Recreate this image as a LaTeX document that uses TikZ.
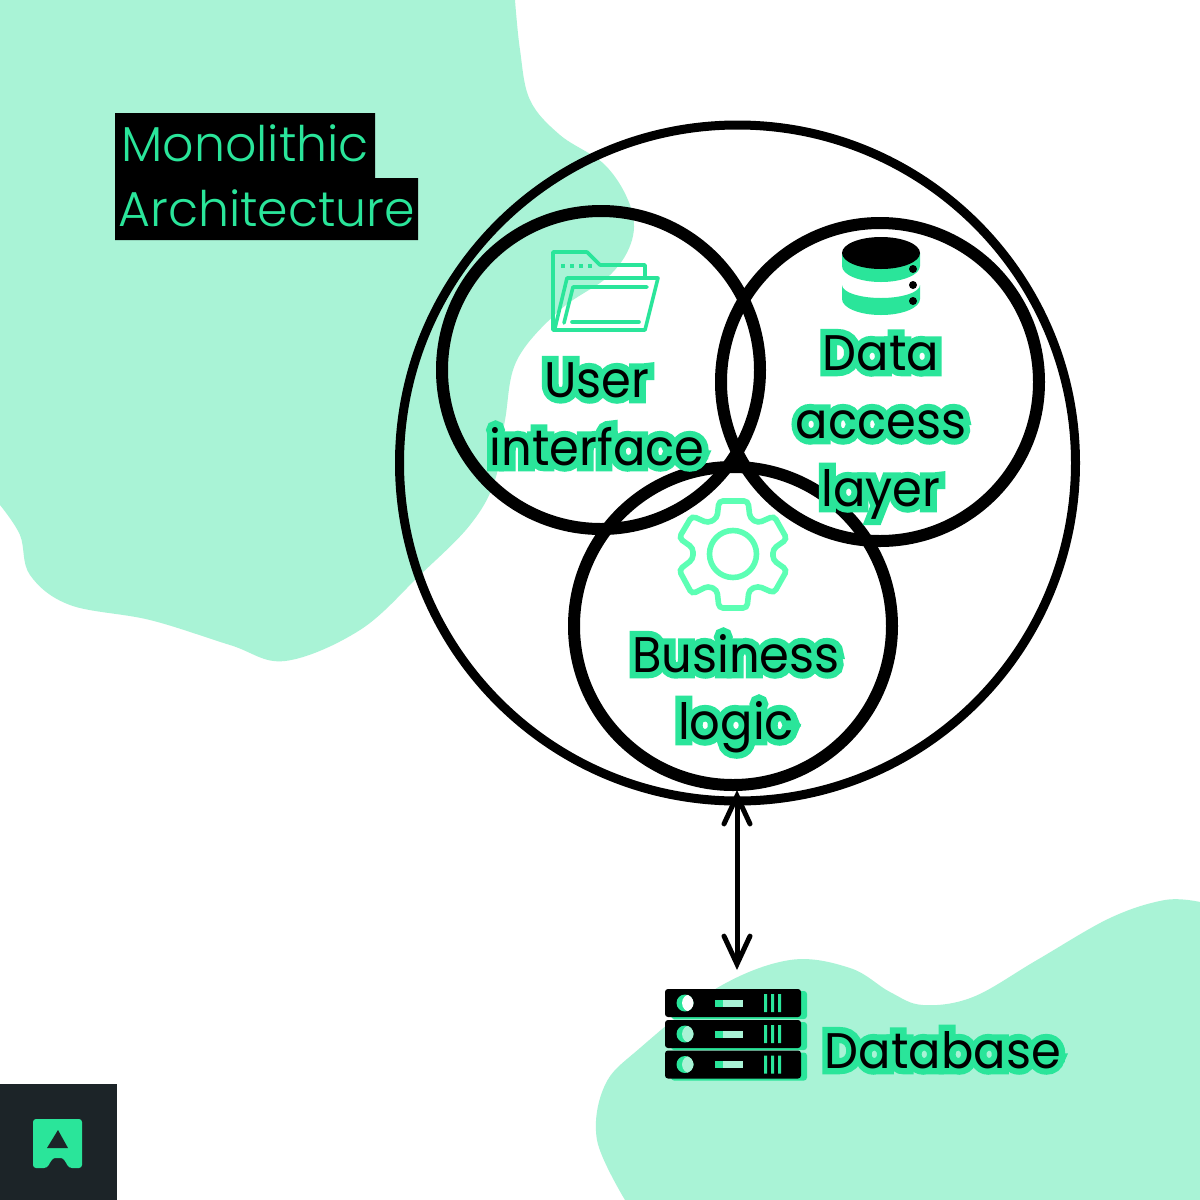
\documentclass[tikz,border=0pt]{standalone}
\usepackage{fontspec}
\usetikzlibrary{arrows.meta}
\setmainfont{Poppins}
\newfontfamily\frontfont[FakeStretch=0.96]{Poppins}
\newfontfamily\halofont[FakeStretch=0.96,FakeBold=25]{Poppins}
\newfontfamily\titlefont[UprightFont=* Light]{Poppins}
\definecolor{mint}{HTML}{A9F3D6}
\definecolor{jade}{HTML}{2AE59A}
\definecolor{gearc}{HTML}{5CFFB4}
\definecolor{logobg}{HTML}{1C2428}
\tikzset{
  x=0.5pt,y=-0.5pt,
  blob/.style={fill=mint,draw=none},
  ring/.style={draw=black,line width=6pt},
  bigring/.style={draw=black,line width=4.5pt},
  iconline/.style={draw=jade,line width=1.8pt,line join=round,line cap=round},
  labelhalo/.style={anchor=base,inner sep=0pt,text=jade,font=\halofont\fontsize{25}{30}\selectfont},
  labelfront/.style={anchor=base,inner sep=0pt,text=black,font=\frontfont\fontsize{25}{30}\selectfont},
  titletext/.style={anchor=base west,inner sep=0pt,text=jade,font=\titlefont\fontsize{24.5}{30}\selectfont},
  rack/.style={fill=black,rounded corners=1.5pt},
  rackshadow/.style={fill=jade,rounded corners=1.5pt},
  link/.style={draw=black,line width=2.5pt,line cap=round,line join=round,{Straight Barb[length=14pt,width=13pt,line cap=round]}-{Straight Barb[length=14pt,width=13pt,line cap=round]}},
}
\newcommand{\halotext}[4]{%
  \node[labelhalo] (#1h) at (#2,#3) {#4};
  \node[labelfront] (#1) at (#2,#3) {#4};
}
\newcommand{\rackunit}[2]{%
  \begin{scope}[shift={(0,#1)}]
    \fill[rackshadow] (671,2) rectangle (807,30);
    \fill[rack] (665,0) rectangle (801,28);
    \begin{scope}
      \clip (685,14) circle (8.5);
      \fill[jade] (685,14) circle (8.5);
      \fill[#2] (691,14) circle (9);
    \end{scope}
    \fill[mint] (715,10.5) rectangle (743,17.5);
    \fill[jade] (715,10.5) rectangle (723,17.5);
    \fill[jade] (764,5) rectangle (767,23) (771,5) rectangle (774,23) (778,5) rectangle (781,23);
  \end{scope}
}
\begin{document}
\begin{tikzpicture}
\path[use as bounding box,fill=white] (0,0) rectangle (1200,1200);
\clip (0,0) rectangle (1200,1200);
% blobs
\fill[blob] (0,0) -- (515,0) -- plot[smooth,tension=0.6] coordinates {(515,0) (520,50) (530,100) (560,135) (605,165) (630,205) (632,240) (610,275) (560,310) (517,360) (505,420) (495,480) (470,525) (420,575) (360,630) (285,661) (230,645) (150,620) (70,605) (30,575) (20,535) (0,505)} -- cycle;
\fill[blob] (1200,1200) -- (625,1200) -- plot[smooth,tension=0.6] coordinates {(625,1200) (597,1140) (605,1085) (640,1048) (717,988) (790,960) (850,968) (890,992) (923,1005) (973,997) (1037,960) (1110,918) (1165,900) (1200,902)} -- cycle;
% rings
\draw[bigring] (737.5,463) circle (338);
\draw[ring] (601,370) circle (159);
\draw[ring] (880,382) circle (159);
\draw[ring] (733,626) circle (159);
% title
\fill[black] (115,113) rectangle (375,178) (115,178) rectangle (418,240);
\node[titletext] (title1) at (121,161) {Monolithic};
\node[titletext] (title2) at (118,226) {Architecture};
% folder
\draw[iconline] (645,278) -- (645,265) -- (600,265) -- (587,252) -- (553,252) -- (553,330) -- (645,330) -- (658,278) -- (567,278) -- (555,328);
\draw[iconline] (647,287) -- (573,287) -- (564,323);
\draw[iconline] (572,322) -- (639,322);
\draw[iconline,dash pattern=on 2pt off 2.5pt,line cap=butt] (561,266) -- (592,266);
% cylinder
\fill[jade] (842,253) -- (842,266) arc (180:0:39 and 16) -- (920,253) -- cycle;
\fill[jade] (842,285) arc (180:0:39 and 13) -- (920,299) arc (0:180:39 and 16) -- cycle;
\fill[black] (881,253) ellipse (39 and 16);
\fill[black] (913,269) circle (4) (913,285) circle (4) (913,301) circle (4);
% gear
\draw[draw=gearc,line width=2.8pt,rounded corners=2pt] (719,501) -- (748,501) -- (750,518) -- (758,523) -- (774,516) -- (787,539) -- (773,549) -- (773,560) -- (787,570) -- (774,593) -- (758,586) -- (749,590) -- (747,608) -- (719,608) -- (717,590) -- (708,586) -- (692,594) -- (679,570) -- (693,559) -- (693,548) -- (679,538) -- (692,516) -- (708,523) -- (717,518) -- cycle;
\draw[draw=gearc,line width=2.8pt] (733,554) circle (23.5);
% labels
\halotext{user}{597}{397}{User}
\halotext{iface}{597}{465}{interface}
\halotext{data}{881}{370}{Data}
\halotext{access}{881}{438}{access}
\halotext{layer}{881}{506}{layer}
\halotext{business}{736}{672}{Business}
\halotext{logic}{736}{739}{logic}
\halotext{db}{943}{1068}{Database}
% database icon
\rackunit{989}{white}
\rackunit{1020}{mint}
\rackunit{1050.5}{mint}
% arrow
\coordinate (core) at (737,790);
\coordinate (store) at (737,970);
\draw[link] (core) -- (store);
% logo
\fill[logobg] (0,1084) rectangle (117,1200);
\fill[jade,rounded corners=1.5pt] (33,1119) -- (82,1119) -- (82,1168) -- (69,1168) to[out=120,in=0] (58,1158) to[out=180,in=60] (47,1168) -- (33,1168) -- cycle;
\fill[logobg] (58,1130) -- (68,1148) -- (47,1148) -- cycle;
\end{tikzpicture}
\end{document}
